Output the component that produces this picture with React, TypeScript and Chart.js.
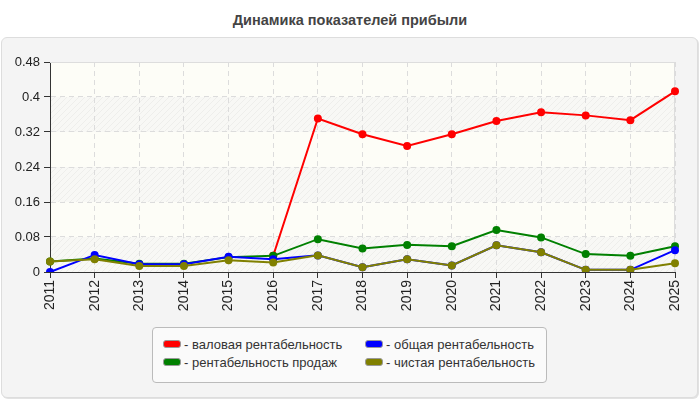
import { useEffect, useRef } from "react"
import { Chart, registerables } from "chart.js"

Chart.register(...registerables)

const years = ['2011', '2012', '2013', '2014', '2015', '2016', '2017', '2018', '2019', '2020', '2021', '2022', '2023', '2024', '2025']
const grossMargin = [null, null, null, null, null, 0.037, 0.351, 0.315, 0.288, 0.315, 0.345, 0.365, 0.358, 0.347, 0.413]
const totalMargin = [0, 0.039, 0.018, 0.018, 0.035, 0.029, 0.038, 0.011, 0.029, 0.015, 0.061, 0.045, 0.005, 0.005, 0.050]
const salesMargin = [0.024, 0.031, 0.019, 0.019, 0.034, 0.037, 0.075, 0.054, 0.062, 0.059, 0.096, 0.079, 0.041, 0.037, 0.059]
const netMargin = [0.024, 0.029, 0.014, 0.014, 0.027, 0.022, 0.038, 0.011, 0.029, 0.015, 0.061, 0.045, 0.005, 0.005, 0.020]
const yTicks = [0, 0.08, 0.16, 0.24, 0.32, 0.4, 0.48]

const series = [
    { label: 'валовая рентабельность', color: '#ff0000' },
    { label: 'общая рентабельность', color: '#0000ff' },
    { label: 'рентабельность продаж', color: '#008000' },
    { label: 'чистая рентабельность', color: '#808000' },
]

const FONT = '"Liberation Sans", Arial, sans-serif'

function hatch(ctx: CanvasRenderingContext2D) {
    const c = document.createElement('canvas')
    c.width = 6
    c.height = 6
    const p = c.getContext('2d')!
    p.fillStyle = '#f8f8f5'
    p.fillRect(0, 0, 6, 6)
    p.strokeStyle = '#eeeeeb'
    p.lineWidth = 1
    p.beginPath()
    p.moveTo(0, 6); p.lineTo(6, 0)
    p.moveTo(-3, 3); p.lineTo(3, -3)
    p.moveTo(3, 9); p.lineTo(9, 3)
    p.stroke()
    return ctx.createPattern(c, 'repeat')!
}

const bandsPlugin = {
    id: 'bands',
    beforeDraw(chart: any) {
        const { ctx, chartArea: a, scales: { y } } = chart
        ctx.save()
        ctx.fillStyle = '#fdfdf7'
        ctx.fillRect(a.left, a.top, a.width, a.height)
        ctx.fillStyle = hatch(ctx)
        for (let i = 0; i < yTicks.length - 1; i += 2) {
            const top = y.getPixelForValue(yTicks[i + 1])
            const bottom = y.getPixelForValue(yTicks[i])
            ctx.fillRect(a.left, top, a.width, bottom - top)
        }
        ctx.restore()
    },
    beforeDatasetsDraw(chart: any) {
        const { ctx, chartArea: a } = chart
        ctx.save()
        ctx.strokeStyle = '#dddddd'
        ctx.lineWidth = 1
        ctx.beginPath()
        ctx.moveTo(a.left, a.top + 0.5)
        ctx.lineTo(a.right - 0.5, a.top + 0.5)
        ctx.lineTo(a.right - 0.5, a.bottom)
        ctx.stroke()
        ctx.restore()
    },
}

export default function App() {
    const canvasRef = useRef<HTMLCanvasElement>(null)

    useEffect(() => {
        const el = canvasRef.current
        if (el == null) return
        const line = (data: (number | null)[], color: string) => ({
            data,
            borderColor: color,
            backgroundColor: color,
            pointBackgroundColor: color,
            pointBorderColor: color,
            borderWidth: 2,
            pointRadius: 4,
            pointBorderWidth: 0,
            tension: 0,
            spanGaps: false,
        })
        // first dataset is drawn on top
        const chart = new Chart(el, {
            type: 'line',
            data: {
                labels: years,
                datasets: [
                    { label: series[3].label, ...line(netMargin, series[3].color) },
                    { label: series[1].label, ...line(totalMargin, series[1].color) },
                    { label: series[2].label, ...line(salesMargin, series[2].color) },
                    { label: series[0].label, ...line(grossMargin, series[0].color) },
                ],
            },
            options: {
                animation: false,
                responsive: true,
                maintainAspectRatio: false,
                layout: { padding: { left: 0, right: 25, top: 24, bottom: 0 } },
                plugins: {
                    legend: { display: false },
                    tooltip: { enabled: false },
                },
                scales: {
                    x: {
                        offset: false,
                        afterFit: (s: any) => { s.height = 51 },
                        border: { display: true, color: '#333333', width: 1, dash: [5, 4] },
                        grid: { color: '#dcdcdc', tickColor: '#333333', tickLength: 6, tickBorderDash: [] },
                        ticks: {
                            color: '#222222',
                            font: { family: FONT, size: 14 },
                            minRotation: 90,
                            maxRotation: 90,
                            padding: 2,
                            autoSkip: false,
                        },
                    },
                    y: {
                        min: yTicks[0],
                        max: yTicks[yTicks.length - 1],
                        afterFit: (s: any) => { s.width = 50 },
                        afterBuildTicks: (s: any) => { s.ticks = yTicks.map(v => ({ value: v })) },
                        border: { display: true, color: '#333333', width: 1, dash: [5, 4] },
                        grid: { color: '#dcdcdc', tickColor: '#333333', tickLength: 6, tickBorderDash: [] },
                        ticks: {
                            color: '#222222',
                            font: { family: FONT, size: 13 },
                            padding: 4,
                            callback: (v: any) => String(Number(Number(v).toFixed(2))),
                        },
                    },
                },
            },
            plugins: [bandsPlugin],
        })
        return () => chart.destroy()
    }, [])

    return (
        <div style={{ position: 'absolute', left: 0, top: 0, width: 700, height: 400, background: '#ffffff', fontFamily: FONT }}>
            <div style={{ position: 'absolute', left: 0, top: 12, width: 700, textAlign: 'center', fontWeight: 'bold', fontSize: 14.5, lineHeight: '16px', color: '#444444' }}>
                Динамика показателей прибыли
            </div>
            <div style={{ position: 'absolute', left: 1, top: 37, width: 697, height: 361, boxSizing: 'border-box', background: '#f4f4f4', border: '1px solid #dddddd', borderRadius: 6, boxShadow: '1px 1px 0 #e2e2e2' }} />
            <div style={{ position: 'absolute', left: 0, top: 38, width: 700, height: 285 }}>
                <canvas ref={canvasRef} />
            </div>
            <div style={{ position: 'absolute', left: 152, top: 327, width: 395, height: 56, boxSizing: 'border-box', background: '#fafafa', border: '1px solid #bbbbbb', borderRadius: 4 }}>
                {series.map((s, i) => (
                    <div key={s.label} style={{ position: 'absolute', left: i % 2 === 0 ? 10 : 212, top: i < 2 ? 7 : 25, height: 18, display: 'flex', alignItems: 'center', fontSize: 13, color: '#333333', whiteSpace: 'nowrap' }}>
                        <span style={{ display: 'inline-block', width: 18, height: 8, boxSizing: 'border-box', background: s.color, border: '1px solid #999999', borderRadius: 3, marginRight: 3 }} />
                        - {s.label}
                    </div>
                ))}
            </div>
        </div>
    )
}
